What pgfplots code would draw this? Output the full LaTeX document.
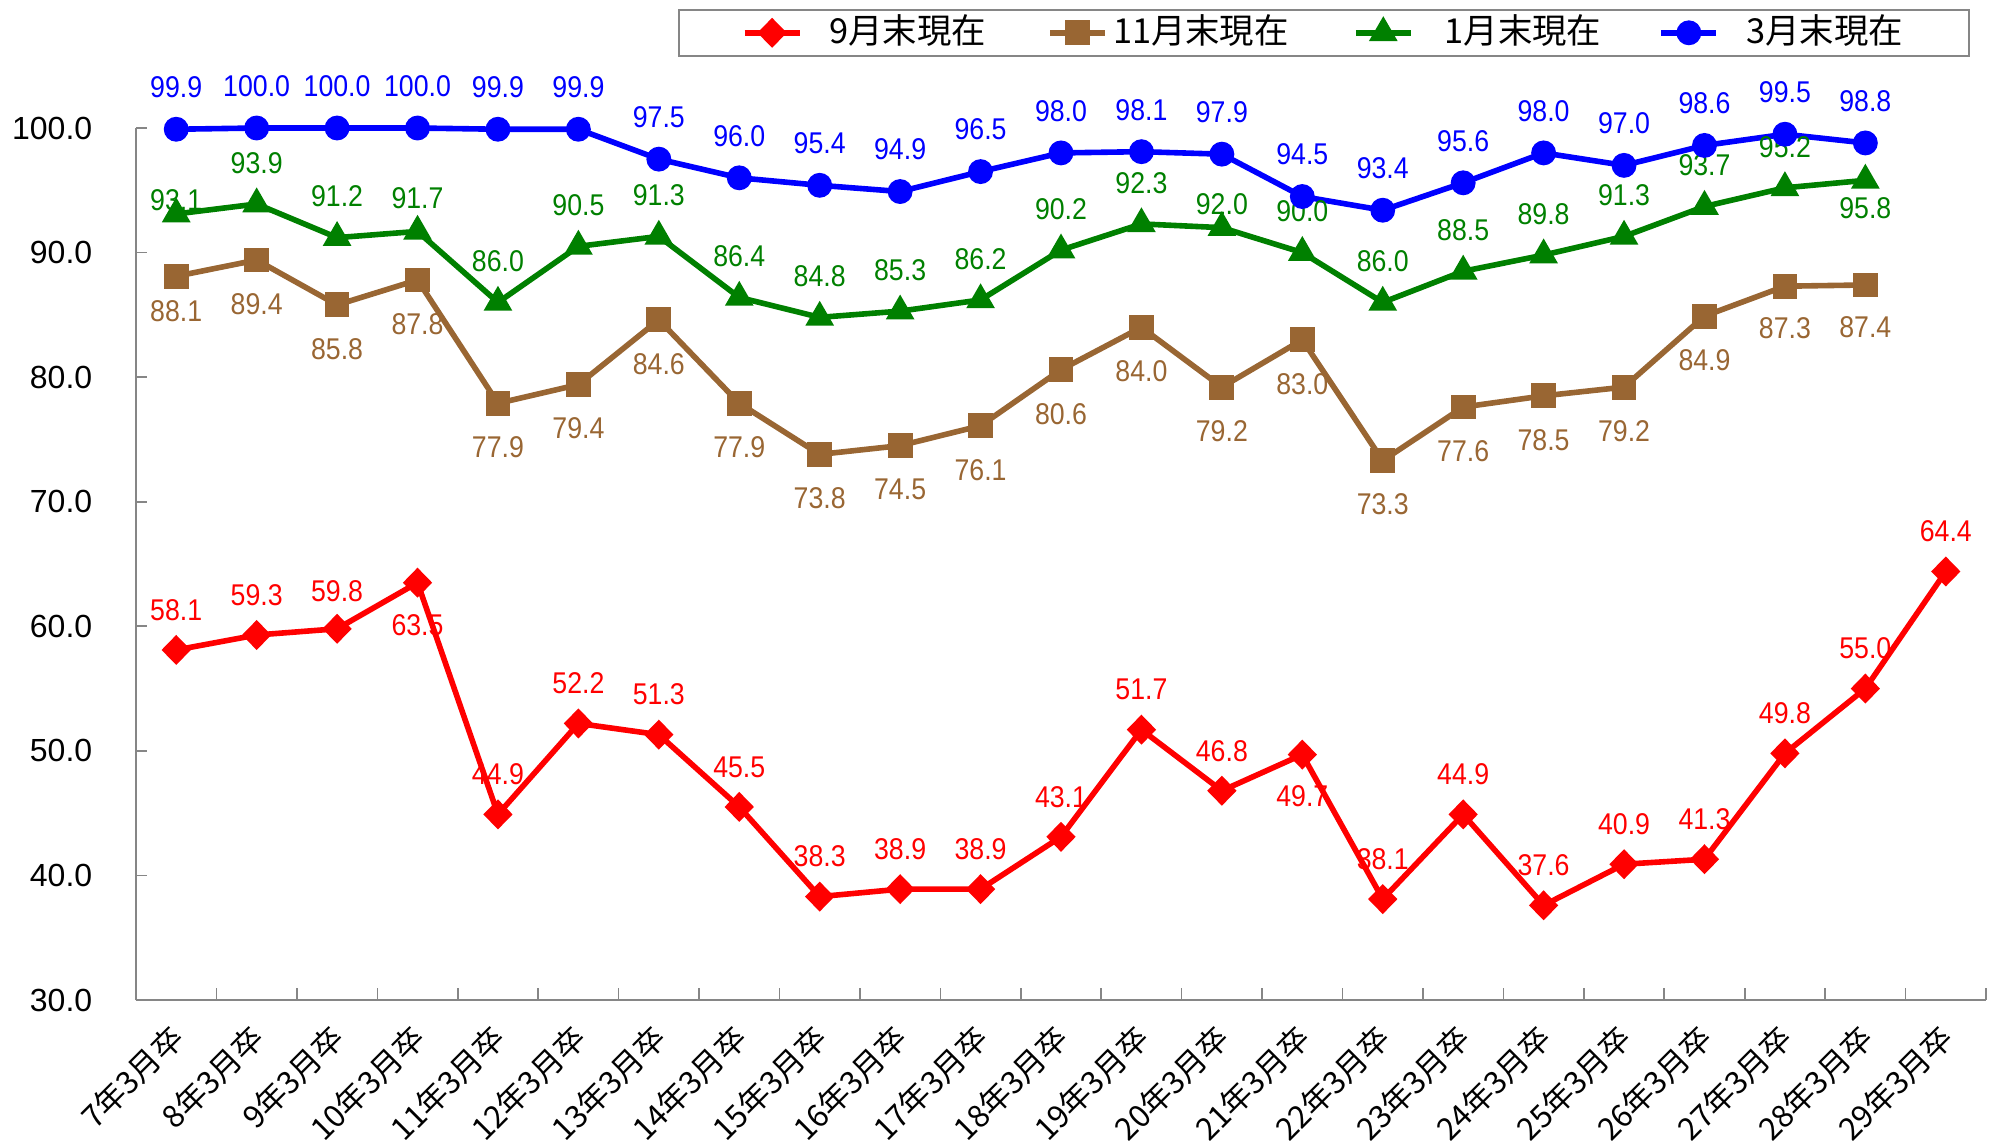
\documentclass[border=0pt]{standalone}
\usepackage{fontspec}
\setmainfont{Liberation Sans}
\newfontfamily\cjk{Noto Sans CJK JP}
\newfontfamily\lblfont[FakeStretch=0.89]{Liberation Sans}
\usepackage{pgfplots}
\usepackage{pgfplotstable}
\pgfplotsset{compat=1.18}

\definecolor{cred}{RGB}{255,0,0}
\definecolor{cbrown}{RGB}{153,102,51}
\definecolor{cgreen}{RGB}{0,128,0}
\definecolor{cblue}{RGB}{0,0,255}
\definecolor{axgray}{RGB}{134,134,134}

\pgfplotstableread{
x y dy
0 58.1 10
1 59.3 10
2 59.8 9.5
3 63.5 -10.5
4 44.9 10
5 52.2 10
6 51.3 10
7 45.5 10
8 38.3 10
9 38.9 10
10 38.9 10
11 43.1 10
12 51.7 10
13 46.8 10
14 49.7 -10.5
15 38.1 10
16 44.9 10
17 37.6 10
18 40.9 10
19 41.3 10
20 49.8 10
21 55.0 10
22 64.4 10
}\redtab

\pgfplotstableread{
x y dy
0 88.1 -8.75
1 89.4 -11
2 85.8 -11
3 87.8 -11
4 77.9 -11
5 79.4 -11
6 84.6 -11
7 77.9 -11
8 73.8 -11
9 74.5 -11
10 76.1 -11
11 80.6 -11
12 84.0 -11
13 79.2 -11
14 83.0 -11
15 73.3 -11
16 77.6 -11
17 78.5 -11
18 79.2 -11
19 84.9 -11
20 87.3 -10.5
21 87.4 -10.5
}\browntab

\pgfplotstableread{
x y dy
0 93.1 3.5
1 93.9 10.25
2 91.2 10.25
3 91.7 8.25
4 86.0 10.25
5 90.5 10.25
6 91.3 10.25
7 86.4 10.25
8 84.8 10.25
9 85.3 10.25
10 86.2 10.25
11 90.2 10.25
12 92.3 10.25
13 92.0 5.75
14 90.0 10.25
15 86.0 10.25
16 88.5 10.25
17 89.8 10.25
18 91.3 10.25
19 93.7 10.25
20 95.2 10.25
21 95.8 -7
}\greentab

\pgfplotstableread{
x y dy
0 99.9 10.5
1 100.0 10.5
2 100.0 10.5
3 100.0 10.5
4 99.9 10.5
5 99.9 10.5
6 97.5 10.5
7 96.0 10.5
8 95.4 10.5
9 94.9 10.5
10 96.5 10.5
11 98.0 10.5
12 98.1 10.5
13 97.9 10.5
14 94.5 10.5
15 93.4 10.5
16 95.6 10.5
17 98.0 10.5
18 97.0 10.5
19 98.6 10.5
20 99.5 10.5
21 98.8 10.5
}\bluetab

\pgfplotsset{
  lbl/.style={
    nodes near coords,
    visualization depends on={\thisrow{dy}\as\dy},
    every node near coord/.append style={font=\lblfont\fontsize{7.5bp}{8bp}\selectfont, text=#1, anchor=center, inner sep=0pt, yshift=\dy bp}
  }
}

\begin{document}
\begin{tikzpicture}
\useasboundingbox (-34bp,-35.75bp) rectangle (466.25bp,250bp);
\begin{axis}[
  at={(0,0)}, anchor=south west,
  width=462.5bp, height=218bp, scale only axis,
  xmin=-0.5, xmax=22.5, ymin=30, ymax=100,
  clip=false,
  axis x line*=bottom, axis y line*=left,
  axis line style={draw=axgray, line width=0.6bp},
  tick align=inside,
  major tick length=2.75bp,
  minor tick length=3bp,
  every tick/.style={draw=axgray, line width=0.4bp},
  ytick={30,40,...,100},
  /pgf/number format/fixed,
  /pgf/number format/fixed zerofill,
  /pgf/number format/precision=1,
  /pgf/number format/assume math mode=true,
  yticklabel style={font=\fontsize{8bp}{9bp}\selectfont, inner sep=0pt, xshift=-10.75bp},
  xtick={0,...,22},
  xticklabels={7年3月卒,8年3月卒,9年3月卒,10年3月卒,11年3月卒,12年3月卒,13年3月卒,14年3月卒,15年3月卒,16年3月卒,17年3月卒,18年3月卒,19年3月卒,20年3月卒,21年3月卒,22年3月卒,23年3月卒,24年3月卒,25年3月卒,26年3月卒,27年3月卒,28年3月卒,29年3月卒},
  major x tick style={draw=none},
  minor xtick={-0.5,0.5,...,22.5},
  xticklabel style={font=\cjk\fontsize{7.8bp}{9bp}\selectfont, inner sep=0pt, xshift=0.5bp, yshift=-7.75bp, rotate=45, anchor=east},
  legend columns=4,
  legend cell align=left,
  legend image code/.code={\draw[mark repeat=2,mark phase=2] plot coordinates {(0bp,0bp) (6.875bp,0bp) (13.75bp,0bp)};},
  legend style={at={(1,1)}, anchor=north east, xshift=-4bp, yshift=29.75bp,
    draw=axgray, line width=0.4bp, inner xsep=15.75bp, inner ysep=1.5bp,
    font=\cjk\fontsize{8.6bp}{9bp}\selectfont,
    nodes={inner sep=0pt, text height=7bp, text depth=1.5bp},
    /tikz/every odd column/.append style={column sep=6.75bp},
    /tikz/every even column/.append style={column sep=14.5bp}},
]
\addplot[color=cred, line width=1.4bp, mark=diamond*, mark size=2.75bp, mark options={xscale=1.3, solid}, lbl=cred]
  table[x=x,y=y]{\redtab};
\addlegendentry{\makebox[40bp][l]{9月末現在}}
\addplot[color=cbrown, line width=1.4bp, mark=square*, mark size=2.4bp, mark options={solid}, lbl=cbrown]
  table[x=x,y=y]{\browntab};
\addlegendentry{\makebox[40bp][l]{\hspace*{-5.5bp}11月末現在}}
\addplot[color=cgreen, line width=1.4bp, mark=triangle*, mark size=2.75bp, mark options={solid}, lbl=cgreen]
  table[x=x,y=y]{\greentab};
\addlegendentry{\makebox[40bp][l]{\hspace*{1bp}1月末現在}}
\addplot[color=cblue, line width=1.4bp, mark=*, mark size=2.4bp, mark options={solid}, lbl=cblue]
  table[x=x,y=y]{\bluetab};
\addlegendentry{\makebox[40bp][l]{3月末現在}}
\end{axis}
\end{tikzpicture}
\end{document}
